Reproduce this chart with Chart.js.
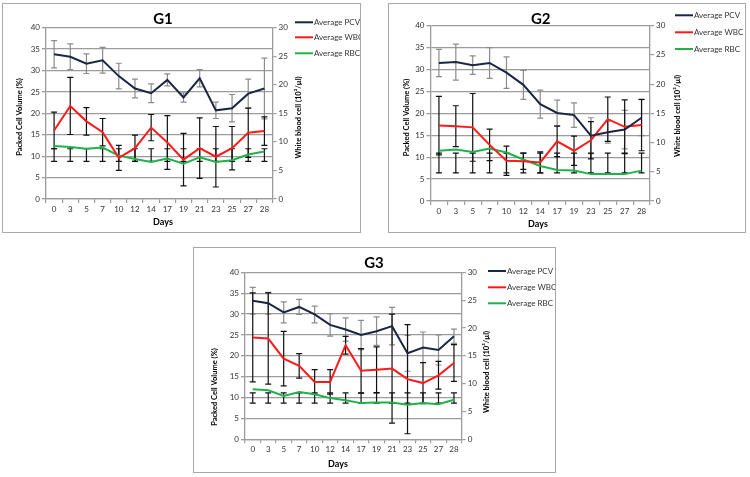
<!DOCTYPE html>
<html><head><meta charset="utf-8">
<script src="https://cdn.jsdelivr.net/npm/chart.js@4.4.1/dist/chart.umd.min.js"></script>
<style>
body{margin:0;background:#fff;width:750px;height:477px;position:relative;overflow:hidden}
.box{position:absolute;border:1px solid #a8a8a8}
.box canvas{display:block}
</style></head><body>
<div class="box" style="left:2px;top:3px;width:357px;height:228px"><canvas id="c1" width="357" height="228"></canvas></div>
<div class="box" style="left:388px;top:3px;width:356px;height:228px"><canvas id="c2" width="356" height="228"></canvas></div>
<div class="box" style="left:193px;top:247px;width:361px;height:224px"><canvas id="c3" width="361" height="224"></canvas></div>
<script>
// ---------- DATA ----------
const seriesNames = ['Average PCV', 'Average WBC', 'Average RBC'];
const leftTicks = [0, 5, 10, 15, 20, 25, 30, 35, 40];
const rightTicks = [0, 5, 10, 15, 20, 25, 30];

// G1
const days1 = ['0','3','5','7','10','12','14','17','19','21','23','25','27','28'];
const pcv1 = [33.8,33.2,31.6,32.4,28.7,25.8,24.7,27.8,23.7,28.2,20.7,21.2,24.6,25.8];
const pcvSd1 = [3.2,3.0,2.3,3.0,3.0,2.2,2.2,1.4,1.1,2.0,1.9,3.2,3.4,7.1];
const wbc1 = [12.0,16.3,13.6,11.7,7.2,8.9,12.5,9.9,6.9,8.9,7.4,8.9,11.6,11.9];
const wbcSd1 = [3.2,5.0,2.4,2.4,2.2,2.3,2.3,4.7,4.6,5.3,5.3,3.8,4.3,2.5];
const rbc1 = [9.3,9.1,8.8,9.0,7.6,7.0,6.5,7.1,6.2,7.3,6.5,6.8,7.8,8.3];
const rbcLow1 = [6.6,6.6,6.6,6.6,6.6,6.6,6.6,6.6,6.6,6.6,6.6,6.6,6.6,6.6];
const rbcHigh1 = [8.8,8.8,8.8,8.8,8.8,8.8,8.8,8.8,8.8,8.8,8.8,8.8,8.8,8.8];

// G2
const days2 = ['0','3','5','7','10','12','14','17','19','23','25','27','28'];
const pcv2 = [31.5,31.7,31.0,31.5,29.3,26.5,22.1,20.1,19.6,14.9,15.7,16.3,19.0];
const pcvSd2 = [3.1,4.1,2.1,3.5,3.6,3.3,3.2,2.9,2.8,4.1,2.5,4.4,4.1];
const wbc2 = [12.9,12.8,12.6,9.6,6.9,6.8,6.6,10.2,8.6,10.4,14.0,12.7,13.0];
const wbcSd2 = [5.0,3.5,5.8,2.7,2.5,1.4,1.8,2.6,2.5,3.2,3.8,4.6,4.4];
const rbc2 = [8.6,8.8,8.4,9.0,8.3,7.1,6.0,5.3,5.2,4.6,4.6,4.6,5.2];
const rbcLow2 = [4.8,4.8,4.8,4.8,4.8,4.8,4.8,4.8,4.8,4.8,4.8,4.8,4.8];
const rbcHigh2 = [8.2,8.2,8.2,8.2,8.2,8.2,8.2,8.2,8.2,8.2,8.2,8.2,8.2];

// G3
const days3 = ['0','3','5','7','10','12','14','17','19','21','23','25','27','28'];
const pcv3 = [33.2,32.6,30.4,31.7,29.9,27.4,26.3,25.0,25.9,27.1,20.6,22.0,21.4,24.7];
const pcvSd3 = [3.2,2.6,2.5,1.8,2.0,2.7,2.8,3.5,3.4,4.5,4.3,3.7,3.6,1.7];
const wbc3 = [18.3,18.1,14.5,13.2,10.3,10.3,16.9,12.3,12.5,12.7,10.8,10.1,11.5,13.7];
const wbcSd3 = [8.0,8.2,4.9,2.2,2.2,2.2,1.6,4.0,4.1,9.8,9.8,3.7,2.5,3.3];
const rbc3 = [9.0,8.8,7.8,8.5,8.1,7.4,7.0,6.5,6.6,6.6,6.2,6.5,6.3,7.1];
const rbcLow3 = [6.5,6.5,6.5,6.5,6.5,6.5,6.5,6.5,6.5,6.5,6.5,6.5,6.5,6.5];
const rbcHigh3 = [8.35,8.35,8.35,8.35,8.35,8.35,8.35,8.35,8.35,8.35,8.35,8.35,8.35,8.35];

// ---------- STYLE / LAYOUT ----------
const FONT = 'Lato, "Open Sans", "Liberation Sans", sans-serif';
const COLORS = ['#1c2541', '#ff1a1a', '#1fb24a'];
const BAR_COLORS = ['#8c8c8c', '#111111', '#111111'];
const GRID = '#9c9c9c';

const panels = [
  {id:'c1', name:'G1', origin:[3,4], days:days1, pcv:pcv1, pcvSd:pcvSd1, wbc:wbc1, wbcSd:wbcSd1, rbc:rbc1, rbcLow:rbcLow1, rbcHigh:rbcHigh1,
   area:{l:43, r:87.5, t:23.7, b:33}, xPad:2,
   title:[163,19], lt:[20,117], rt:[298.5,117.5], dl:[163,222.3], lg:{x:295, ys:[22.3,37.3,53.3]}},
  {id:'c2', name:'G2', origin:[389,4], days:days2, pcv:pcv2, pcvSd:pcvSd2, wbc:wbc2, wbcSd:wbcSd2, rbc:rbc2, rbcLow:rbcLow2, rbcHigh:rbcHigh2,
   area:{l:41.5, r:95, t:21.7, b:31}, xPad:2,
   title:[540.7,19], lt:[406.7,117.5], rt:[678,116], dl:[538,224], lg:{x:675, ys:[15.3,32.3,49]}},
  {id:'c3', name:'G3', origin:[194,248], days:days3, pcv:pcv3, pcvSd:pcvSd3, wbc:wbc3, wbcSd:wbcSd3, rbc:rbc3, rbcLow:rbcLow3, rbcHigh:rbcHigh3,
   area:{l:51, r:93.3, t:24.3, b:32.7}, xPad:1,
   title:[374,263], lt:[215,387], rt:[487,372], dl:[338,464], lg:{x:488, ys:[271,287.3,303.3]}}
];

function makePlugin(p){
  return {
    id:'deco'+p.name,
    beforeDatasetsDraw(chart){
      const ctx = chart.ctx;
      const xs = chart.scales.x;
      chart.data.datasets.forEach((ds, i) => {
        const ys = chart.scales[ds.yAxisID];
        ctx.save();
        ctx.strokeStyle = BAR_COLORS[i];
        ctx.lineWidth = 1.2;
        ds.errLow.forEach((lo, j) => {
          const hi = ds.errHigh[j];
          const x = xs.getPixelForValue(j);
          const y1 = ys.getPixelForValue(hi), y2 = ys.getPixelForValue(lo);
          ctx.beginPath();
          ctx.moveTo(x, y1); ctx.lineTo(x, y2);
          ctx.moveTo(x-3, y1); ctx.lineTo(x+3, y1);
          ctx.moveTo(x-3, y2); ctx.lineTo(x+3, y2);
          ctx.stroke();
        });
        ctx.restore();
      });
    },
    afterDraw(chart){
      const ctx = chart.ctx;
      const ox = p.origin[0], oy = p.origin[1];
      ctx.save();
      ctx.fillStyle = '#000';
      ctx.textAlign = 'center'; ctx.textBaseline = 'middle';
      ctx.font = 'bold 15px ' + FONT;
      ctx.fillText(p.name, p.title[0]-ox, p.title[1]-oy);
      ctx.font = 'bold 9px ' + FONT;
      ctx.fillText('Days', p.dl[0]-ox, p.dl[1]-oy);
      ctx.font = 'bold 7.5px ' + FONT;
      ctx.save(); ctx.translate(p.lt[0]-ox, p.lt[1]-oy); ctx.rotate(-Math.PI/2);
      ctx.fillText('Packed Cell Volume (%)', 0, 0); ctx.restore();
      ctx.save(); ctx.translate(p.rt[0]-ox, p.rt[1]-oy); ctx.rotate(-Math.PI/2);
      ctx.fillText('White blood cell (10\u00B3/\u00B5l)', 0, 0); ctx.restore();
      // legend
      ctx.textAlign = 'left';
      ctx.font = '8px ' + FONT;
      ctx.fillStyle = '#333';
      chart.data.datasets.forEach((ds, i) => {
        const y = p.lg.ys[i]-oy, x = p.lg.x-ox;
        ctx.strokeStyle = COLORS[i]; ctx.lineWidth = 2;
        ctx.beginPath(); ctx.moveTo(x, y); ctx.lineTo(x+18, y); ctx.stroke();
        ctx.fillText(ds.label, x+19, y);
      });
      ctx.restore();
    }
  };
}

panels.forEach(p => {
  const mk = (label, vals, lo, hi, i, axis) => ({
    label, data: vals, errLow: lo, errHigh: hi, yAxisID: axis,
    borderColor: COLORS[i], backgroundColor: COLORS[i], borderWidth: 2,
    pointRadius: 0, pointHoverRadius: 0, tension: 0, fill: false, clip: false
  });
  const tickFont = {family: FONT, size: 8};
  new Chart(document.getElementById(p.id), {
    type: 'line',
    data: {
      labels: p.days,
      datasets: [
        mk(seriesNames[0], p.pcv, p.pcv.map((v,j)=>v-p.pcvSd[j]), p.pcv.map((v,j)=>v+p.pcvSd[j]), 0, 'y'),
        mk(seriesNames[1], p.wbc, p.wbc.map((v,j)=>v-p.wbcSd[j]), p.wbc.map((v,j)=>v+p.wbcSd[j]), 1, 'y1'),
        mk(seriesNames[2], p.rbc, p.rbcLow, p.rbcHigh, 2, 'y1')
      ]
    },
    options: {
      responsive: false, animation: false, devicePixelRatio: 1,
      layout: {padding: {left: 0, right: 0, top: p.area.t, bottom: 0}},
      plugins: {legend: {display: false}, title: {display: false}, tooltip: {enabled: false}},
      scales: {
        x: {
          offset: true,
          grid: {offset: true, drawOnChartArea: false, color: GRID, lineWidth: 1.2, tickLength: 4},
          border: {color: GRID, width: 1.3},
          ticks: {font: tickFont, color: '#333', maxRotation: 0, autoSkip: false, padding: p.xPad},
          afterFit: s => { s.height = p.area.b; }
        },
        y: {
          position: 'left', min: 0, max: 40,
          afterBuildTicks: s => { s.ticks = leftTicks.map(v => ({value: v})); },
          grid: {color: GRID, lineWidth: 1.3, tickLength: 4},
          border: {color: GRID, width: 1.3},
          ticks: {font: tickFont, color: '#333', padding: 2},
          afterFit: s => { s.width = p.area.l; }
        },
        y1: {
          position: 'right', min: 0, max: 30,
          afterBuildTicks: s => { s.ticks = rightTicks.map(v => ({value: v})); },
          grid: {drawOnChartArea: false, color: GRID, lineWidth: 1.2, tickLength: 4},
          border: {color: GRID, width: 1.3},
          ticks: {font: tickFont, color: '#333', padding: 2},
          afterFit: s => { s.width = p.area.r; }
        }
      }
    },
    plugins: [makePlugin(p)]
  });
});
</script>
</body></html>
